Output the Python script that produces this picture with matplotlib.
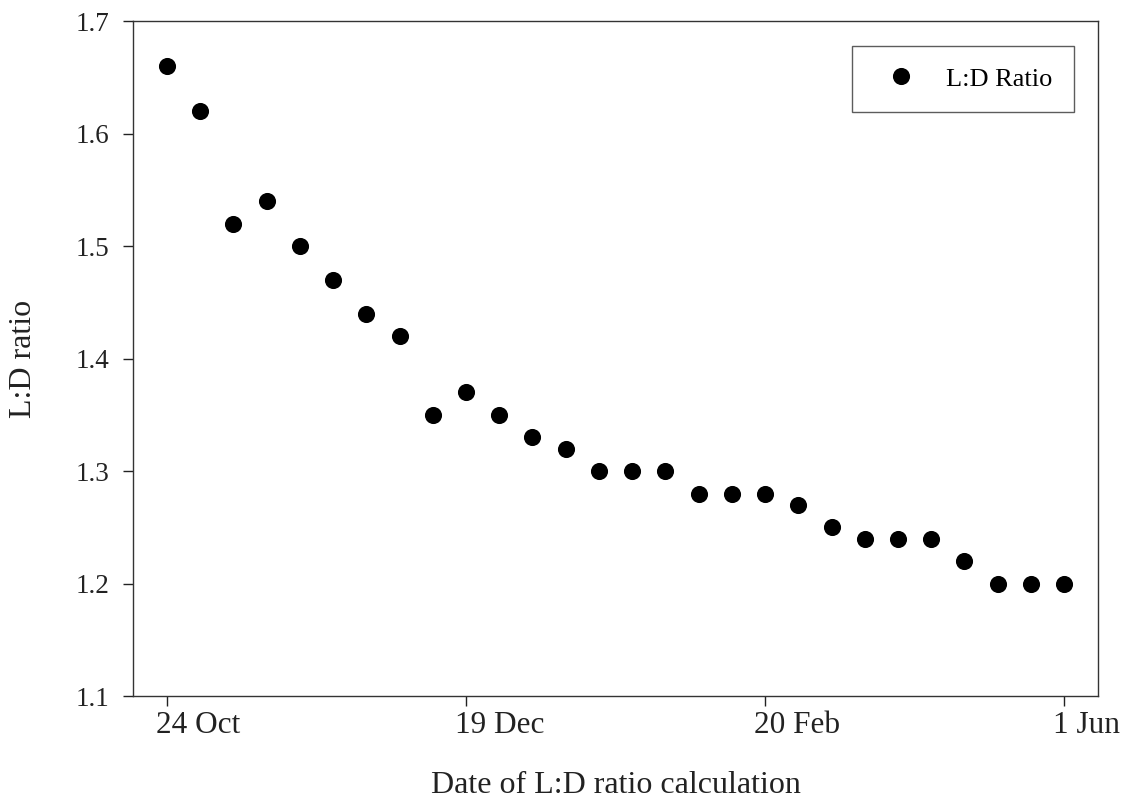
import matplotlib.pyplot as plt
import matplotlib.transforms as mtransforms

# L:D ratio measured at each sampling date (evenly spaced sampling index)
sample_index = list(range(28))
ld_ratio = [1.66, 1.62, 1.52, 1.54, 1.50, 1.47, 1.44, 1.42, 1.35, 1.37,
            1.35, 1.33, 1.32, 1.30, 1.30, 1.30, 1.28, 1.28, 1.28, 1.27,
            1.25, 1.24, 1.24, 1.24, 1.22, 1.20, 1.20, 1.20]
date_ticks = [0, 9, 18, 27]
date_labels = ['24 Oct', '19 Dec', '20 Feb', '1 Jun']
y_ticks = [1.1, 1.2, 1.3, 1.4, 1.5, 1.6, 1.7]

plt.rcParams['font.family'] = ['Liberation Serif', 'DejaVu Serif']

fig = plt.figure(figsize=(11.3, 7.99), dpi=100)
ax = fig.add_axes([0.1177, 0.1289, 0.854, 0.8448])

ax.plot(sample_index, ld_ratio, linestyle='none', marker='o', markersize=11.3,
        color='black', label='L:D Ratio')

ax.set_xlim(-1.02, 28.02)
ax.set_ylim(1.1, 1.7)
ax.set_xticks(date_ticks)
ax.set_xticklabels(date_labels, ha='left')
ax.set_yticks(y_ticks)
ax.set_yticklabels([f'{v:.1f}' for v in y_ticks])

ax.tick_params(axis='both', direction='out', length=7, width=1,
               colors='#222222')
ax.tick_params(axis='x', labelsize=22.5, pad=4)
ax.tick_params(axis='y', labelsize=19.5, pad=10)

# date labels start slightly left of their tick
shift = mtransforms.ScaledTranslation(-0.11, 0, fig.dpi_scale_trans)
for lbl in ax.get_xticklabels():
    lbl.set_transform(lbl.get_transform() + shift)

for side in ax.spines.values():
    side.set_linewidth(1)
    side.set_color('#333333')

ax.set_xlabel('Date of L:D ratio calculation', fontsize=23, labelpad=22,
              color='#222222')
ax.set_ylabel('L:D ratio', fontsize=23, labelpad=27, color='#222222')

leg = ax.legend(loc='upper right', bbox_to_anchor=(0.975, 0.963), fontsize=19,
                frameon=True, fancybox=False, edgecolor='#333333',
                borderpad=0.8, handlelength=2.1, handletextpad=0.68,
                borderaxespad=0)
leg.get_frame().set_linewidth(1)

fig.savefig('out.png', dpi=100)
